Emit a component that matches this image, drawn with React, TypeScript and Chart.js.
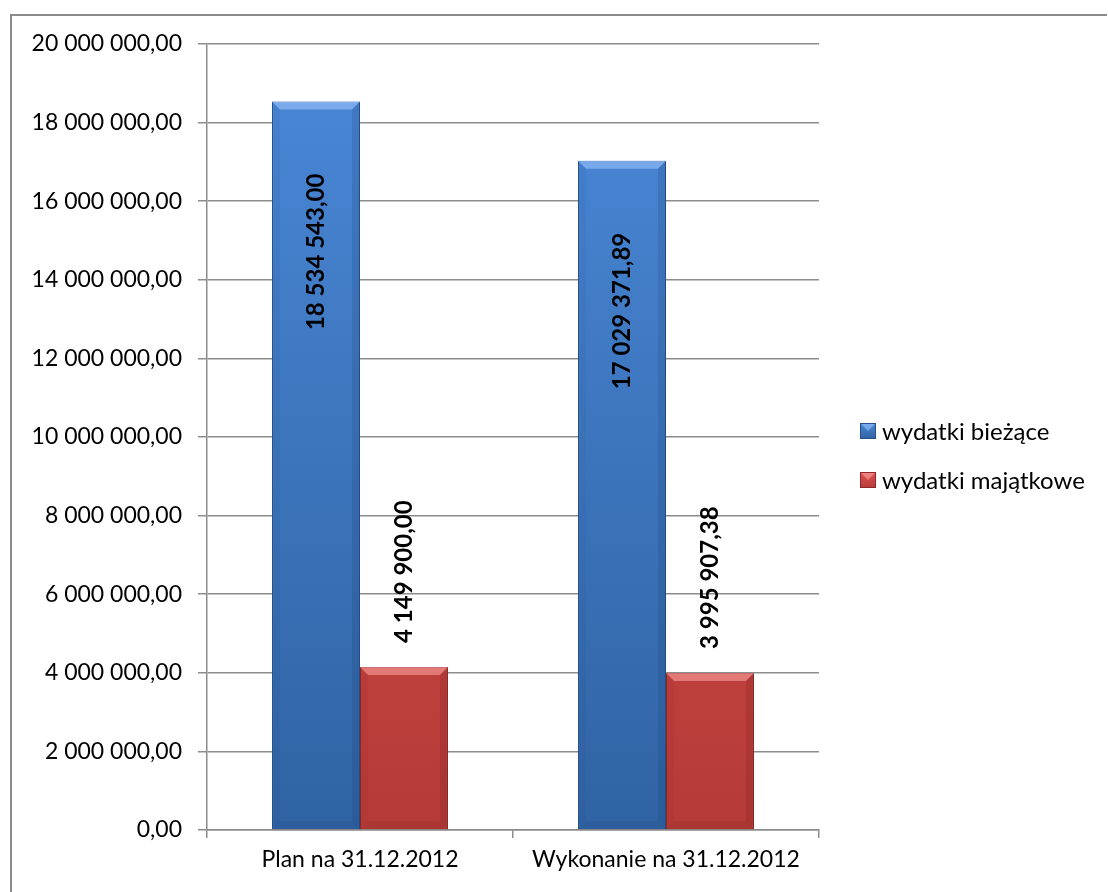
import React, { useEffect, useRef } from "react";
import { Chart, registerables } from "chart.js";

Chart.register(...registerables);

const categories = ["Plan na 31.12.2012", "Wykonanie na 31.12.2012"];
const seriesNames = ["wydatki bieżące", "wydatki majątkowe"];
const biezace = [18534543.0, 17029371.89];
const majatkowe = [4149900.0, 3995907.38];
const yTicks = [0, 2000000, 4000000, 6000000, 8000000, 10000000, 12000000, 14000000, 16000000, 18000000, 20000000];

const FONT = "Lato, 'Open Sans', sans-serif";

function fmt(v: number): string {
  const fixed = v.toFixed(2);
  const [intPart, dec] = fixed.split(".");
  const withSp = intPart.replace(/\B(?=(\d{3})+(?!\d))/g, " ");
  return withSp + "," + dec;
}

const palettes = [
  { top: "#4a88d8", bottom: "#3063a3", edge: "#27508a", light: "rgba(160,200,255,0.55)", dark: "rgba(20,50,100,0.3)" },
  { top: "#e2514e", bottom: "#b53b38", edge: "#8a2927", light: "rgba(255,170,165,0.55)", dark: "rgba(100,20,20,0.3)" },
];

export default function App() {
  const ref = useRef<HTMLCanvasElement | null>(null);

  useEffect(() => {
    const canvas = ref.current;
    if (!canvas) return;

    const makeGrad = (ctx: any, pi: number) => {
      const chart = ctx.chart;
      const area = chart.chartArea;
      if (!area) return palettes[pi].top;
      const g = chart.ctx.createLinearGradient(0, area.top, 0, area.bottom);
      g.addColorStop(0, palettes[pi].top);
      g.addColorStop(1, palettes[pi].bottom);
      return g;
    };

    const framePlugin = {
      id: "frame",
      beforeDraw(chart: any) {
        const c = chart.ctx;
        c.save();
        c.fillStyle = "#ffffff";
        c.fillRect(0, 0, chart.width, chart.height);
        c.strokeStyle = "#8c8c8c";
        c.lineWidth = 2;
        c.beginPath();
        c.moveTo(11, chart.height + 5);
        c.lineTo(11, 15);
        c.lineTo(chart.width - 1, 15);
        c.stroke();
        c.restore();
      },
    };

    const bevelPlugin = {
      id: "bevel",
      afterDatasetsDraw(chart: any) {
        const c = chart.ctx;
        chart.data.datasets.forEach((ds: any, di: number) => {
          const meta = chart.getDatasetMeta(di);
          meta.data.forEach((bar: any) => {
            const { x, y, base, width } = bar.getProps(["x", "y", "base", "width"], true);
            const l = x - width / 2;
            const r = x + width / 2;
            const b = 8;
            c.save();
            c.fillStyle = palettes[di].light;
            c.beginPath();
            c.moveTo(l, y);
            c.lineTo(r, y);
            c.lineTo(r - b, y + b);
            c.lineTo(l + b, y + b);
            c.closePath();
            c.fill();
            c.fillStyle = palettes[di].dark;
            c.beginPath();
            c.moveTo(r, y);
            c.lineTo(r, base);
            c.lineTo(r - b, base - b);
            c.lineTo(r - b, y + b);
            c.closePath();
            c.globalAlpha = 0.5;
            c.fill();
            c.beginPath();
            c.moveTo(l, y);
            c.lineTo(l, base);
            c.lineTo(l + b, base - b);
            c.lineTo(l + b, y + b);
            c.closePath();
            c.globalAlpha = 0.2;
            c.fill();
            c.globalAlpha = 0.35;
            c.beginPath();
            c.moveTo(l, base);
            c.lineTo(r, base);
            c.lineTo(r - b, base - b);
            c.lineTo(l + b, base - b);
            c.closePath();
            c.fill();
            c.restore();
          });
        });
      },
    };

    const labelPlugin = {
      id: "vlabels",
      afterDatasetsDraw(chart: any) {
        const c = chart.ctx;
        chart.data.datasets.forEach((ds: any, di: number) => {
          const meta = chart.getDatasetMeta(di);
          meta.data.forEach((bar: any, i: number) => {
            const { x, y } = bar.getProps(["x", "y"], true);
            const text = fmt(ds.data[i]);
            c.save();
            c.font = "bold 24px " + FONT;
            c.fillStyle = "#000000";
            c.translate(x, di === 0 ? y + 72 : y - 24);
            c.rotate(-Math.PI / 2);
            c.textBaseline = "middle";
            c.textAlign = di === 0 ? "right" : "left";
            c.fillText(text, 0, 0);
            c.restore();
          });
        });
      },
    };

    const legendPlugin = {
      id: "customLegend",
      afterDraw(chart: any) {
        const c = chart.ctx;
        seriesNames.forEach((name, i) => {
          const cy = 431 + i * 49;
          const x0 = 860;
          const s = 16;
          c.save();
          const g = c.createLinearGradient(0, cy - s / 2, 0, cy + s / 2);
          g.addColorStop(0, palettes[i].top);
          g.addColorStop(1, palettes[i].bottom);
          c.fillStyle = g;
          c.fillRect(x0, cy - s / 2, s, s);
          c.fillStyle = palettes[i].light;
          c.beginPath();
          c.moveTo(x0, cy - s / 2);
          c.lineTo(x0 + s, cy - s / 2);
          c.lineTo(x0 + s / 2, cy);
          c.closePath();
          c.fill();
          c.strokeStyle = palettes[i].edge;
          c.lineWidth = 1;
          c.strokeRect(x0 + 0.5, cy - s / 2 + 0.5, s - 1, s - 1);
          c.fillStyle = "#000000";
          c.font = "24px " + FONT;
          c.textBaseline = "middle";
          c.textAlign = "left";
          c.fillText(name, x0 + 22, cy + 1);
          c.restore();
        });
      },
    };

    const chart = new Chart(canvas, {
      type: "bar",
      data: {
        labels: categories,
        datasets: [
          {
            label: seriesNames[0],
            data: biezace,
            backgroundColor: (ctx: any) => makeGrad(ctx, 0),
            borderColor: palettes[0].edge,
            borderWidth: 1,
            categoryPercentage: 0.575,
            barPercentage: 1,
          },
          {
            label: seriesNames[1],
            data: majatkowe,
            backgroundColor: (ctx: any) => makeGrad(ctx, 1),
            borderColor: palettes[1].edge,
            borderWidth: 1,
            categoryPercentage: 0.575,
            barPercentage: 1,
          },
        ],
      },
      options: {
        animation: false,
        responsive: false,
        maintainAspectRatio: false,
        devicePixelRatio: 1,
        layout: { padding: { left: 0, right: 289, top: 44, bottom: 0 } },
        plugins: {
          legend: { display: false },
          tooltip: { enabled: false },
        },
        scales: {
          x: {
            grid: {
              display: true,
              offset: true,
              drawOnChartArea: false,
              drawTicks: true,
              tickLength: 8,
              color: "#8c8c8c",
              lineWidth: 1.5,
            },
            border: { display: true, color: "#8c8c8c", width: 1.5 },
            ticks: {
              color: "#000000",
              font: { family: FONT, size: 23 },
              padding: 8,
              maxRotation: 0,
            },
            afterFit: (scale: any) => {
              scale.height = 62;
            },
          },
          y: {
            min: 0,
            max: 20000000,
            afterBuildTicks: (scale: any) => {
              scale.ticks = yTicks.map((v) => ({ value: v }));
            },
            grid: {
              color: "#8c8c8c",
              lineWidth: 1.5,
              drawTicks: true,
              tickLength: 9,
            },
            border: { display: true, color: "#8c8c8c", width: 1.5 },
            ticks: {
              color: "#000000",
              font: { family: FONT, size: 23 },
              padding: 16,
              callback: (v: any) => fmt(Number(v)),
            },
            afterFit: (scale: any) => {
              scale.width = 207;
            },
          },
        },
      },
      plugins: [framePlugin, bevelPlugin, labelPlugin, legendPlugin],
    });

    return () => {
      chart.destroy();
    };
  }, []);

  return (
    <div style={{ position: "fixed", left: 0, top: 0, width: 1108, height: 892, background: "#fff" }}>
      <canvas ref={ref} width={1108} height={892} style={{ width: 1108, height: 892, display: "block" }} />
    </div>
  );
}
